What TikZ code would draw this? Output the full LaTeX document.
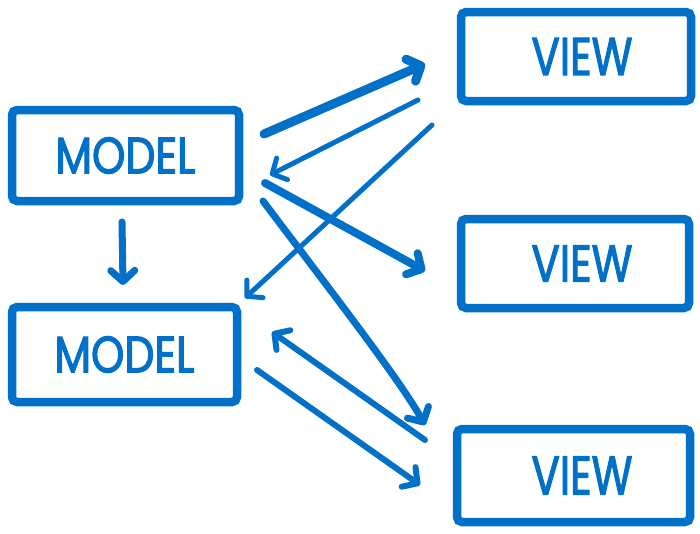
\documentclass[tikz,border=0pt]{standalone}
\usepackage{fontspec}
\setmainfont{Poppins}
\newfontfamily\labelfont[FakeBold=2.5]{Poppins}
\usetikzlibrary{arrows.meta}
\definecolor{ink}{RGB}{0,112,201}
\begin{document}
\begin{tikzpicture}[x=1pt,y=-1pt,
  box/.style={draw=ink, line width=8.5pt, rounded corners=5pt, inner sep=0pt,
    text=ink, font=\labelfont\fontsize{40}{40}\selectfont},
  link/.style={draw=ink, line cap=round, line join=round,
    -{Straight Barb[length=11pt,width=24pt,round]}},
]
\path[use as bounding box] (0,0) rectangle (700,533);

% model and view boxes
\node[box, minimum width=227pt, minimum height=91pt] (m1) at (125.5,155.5)
  {\resizebox{140pt}{36pt}{MODEL}};
\node[box, minimum width=225pt, minimum height=95pt] (m2) at (124.5,354.5)
  {\resizebox{140pt}{36pt}{MODEL}};
\node[box, minimum width=230pt, minimum height=89pt] (v1) at (576,56.5)
  {\hspace*{12pt}\resizebox{101pt}{37pt}{VIEW}};
\node[box, minimum width=228pt, minimum height=89pt] (v2) at (575,263.5)
  {\hspace*{14pt}\resizebox{101pt}{36pt}{VIEW}};
\node[box, minimum width=233pt, minimum height=93pt] (v3) at (573.5,475.5)
  {\hspace*{17pt}\resizebox{101pt}{38pt}{VIEW}};

% connector end points beside the boxes
\coordinate (m1a) at (264,134);  \coordinate (v1a) at (425,64);
\coordinate (v1b) at (418,100);  \coordinate (m1b) at (270,175);
\coordinate (v1c) at (432,125);  \coordinate (m2c) at (245,298);
\coordinate (m1d) at (265,183);  \coordinate (v2d) at (425,271);
\coordinate (m1e) at (263,201);  \coordinate (v3e) at (425,425);
\coordinate (v3f) at (425,440);  \coordinate (m2f) at (272,332);
\coordinate (m2g) at (257,370);  \coordinate (v3g) at (420,485);
\coordinate (m1h) at (122,222);  \coordinate (m2h) at (123,285);

% connectors
\draw[link, line width=9pt] (m1a) -- (v1a);
\draw[link, line width=5pt] (v1b) -- (m1b);
\draw[link, line width=5pt] (v1c) -- (m2c);
\draw[link, line width=8pt] (m1d) -- (v2d);
\draw[link, line width=7pt] (m1e) .. controls (330,290) and (400,380) .. (v3e);
\draw[link, line width=6pt] (v3f) -- (m2f);
\draw[link, line width=6pt] (m2g) -- (v3g);
\draw[link, line width=7pt] (m1h) -- (m2h);
\end{tikzpicture}
\end{document}
